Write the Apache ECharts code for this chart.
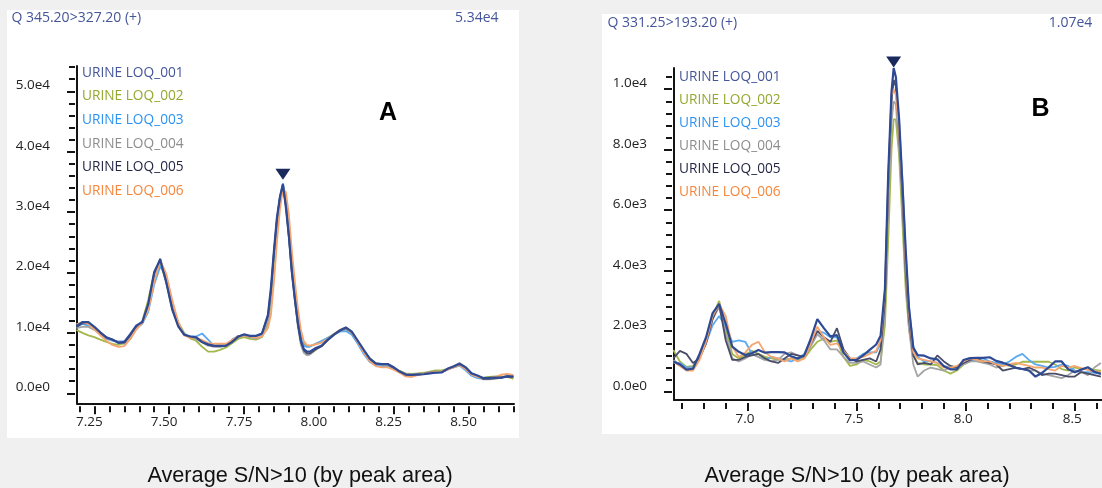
<!DOCTYPE html>
<html>
<head>
<meta charset="utf-8">
<script src="https://cdn.jsdelivr.net/npm/echarts@6/dist/echarts.min.js"></script>
<style>
  html, body { margin: 0; padding: 0; background: #f0f0f0; }
  #chart { width: 1102px; height: 488px; }
</style>
</head>
<body>
<div id="chart"></div>
<script>
// sample names, shared by both panels
const NAMES = ['URINE LOQ_001', 'URINE LOQ_002', 'URINE LOQ_003', 'URINE LOQ_004', 'URINE LOQ_005', 'URINE LOQ_006'];
const LINE_COLORS = ['#2f4a94', '#a3b84a', '#5aaaf2', '#a5a5a5', '#4a4d68', '#f7a56e'];
const TEXT_COLORS = ['#44559a', '#93a82e', '#2c93f2', '#8d8d8d', '#252845', '#f5863c'];

// panel A : Q 345.20>327.20 (+)
const L_RT = [7.19, 7.21, 7.23, 7.25, 7.27, 7.29, 7.31, 7.33, 7.35, 7.37, 7.39, 7.41, 7.43, 7.45, 7.47, 7.49, 7.51,
  7.53, 7.55, 7.57, 7.59, 7.61, 7.63, 7.65, 7.67, 7.69, 7.71, 7.73, 7.75, 7.77, 7.79, 7.81, 7.83,
  7.84, 7.85, 7.86, 7.87, 7.88, 7.89, 7.90, 7.91, 7.92, 7.93, 7.94, 7.95, 7.96, 7.97,
  7.99, 8.01, 8.03, 8.05, 8.07, 8.09, 8.11, 8.13, 8.15, 8.17, 8.19, 8.21, 8.23, 8.25, 8.27, 8.29, 8.31,
  8.33, 8.35, 8.37, 8.39, 8.41, 8.43, 8.45, 8.47, 8.49, 8.51, 8.53, 8.55, 8.57, 8.59, 8.61, 8.63, 8.65];
const L_001 = [11100, 11800, 11800, 11000, 10100, 9250, 8900, 8360, 8500, 9800, 11200, 11800, 14750, 20100, 22100, 18400, 13900,
  11100, 9700, 9400, 9250, 8500, 8100, 7870, 7870, 7900, 8500, 9350, 9750, 9515, 9515, 9900, 13000,
  17500, 23600, 29100, 32500, 34600, 30800, 26000, 20000, 15500, 11600, 8700, 7300, 6900, 6900,
  7500, 7900, 8900, 9700, 10400, 10900, 10200, 8700, 7200, 5750, 4950, 4850, 4850, 4300, 3600, 3100, 3050,
  3100, 3150, 3300, 3400, 3450, 4050, 4450, 4900, 4300, 3300, 2950, 2500, 2550, 2600, 2600, 2800, 2750];
const L_002 = [10500, 10000, 9600, 9300, 8900, 8500, 8200, 8000, 8300, 9500, 10800, 11900, 15500, 20000, 21500, 18500, 14500,
  11800, 10000, 9100, 8700, 7700, 6900, 6900, 7200, 7600, 8300, 9000, 9300, 9000, 8900, 9300, 11500,
  15000, 21500, 27500, 31500, 34000, 32000, 27000, 21500, 17000, 13000, 9800, 8200, 7800, 7800,
  8200, 8600, 9200, 9800, 10300, 10600, 10000, 8600, 7000, 5800, 5000, 4700, 4600, 4200, 3700, 3300, 3200,
  3300, 3400, 3600, 3800, 3800, 4000, 4300, 4600, 4100, 3200, 2700, 2600, 2700, 2800, 2800, 2700, 2400];
const L_003 = [11000, 11500, 11200, 10600, 9800, 9000, 8700, 8600, 8600, 9400, 10800, 11500, 13500, 18000, 21000, 19500, 15000,
  11500, 9800, 9400, 9400, 9900, 8900, 7800, 7700, 7900, 8600, 9400, 9700, 9300, 9200, 9700, 12000,
  16500, 23000, 28500, 32500, 34800, 32000, 26500, 20500, 16000, 12000, 9200, 7900, 7700, 7700,
  8200, 8700, 9200, 9700, 10200, 10300, 9700, 8200, 6500, 5200, 4600, 4500, 4500, 4000, 3500, 3100, 3000,
  3100, 3200, 3300, 3400, 3500, 3900, 4300, 4600, 3800, 2900, 2500, 2400, 2400, 2500, 2600, 2900, 2900];
const L_004 = [10800, 11000, 11000, 10500, 9800, 9200, 8800, 8500, 8200, 9000, 10600, 11600, 14000, 19000, 22000, 19000, 14500,
  11300, 9700, 9300, 9000, 8400, 7900, 7700, 7700, 8000, 8900, 9500, 9500, 9400, 9000, 9400, 12000,
  16500, 23000, 28500, 32500, 34300, 31500, 26000, 20000, 15500, 11000, 8000, 6700, 6300, 6400,
  7200, 7900, 8800, 9600, 10400, 10700, 10000, 8600, 7000, 5600, 4900, 4800, 4700, 4300, 3700, 3200, 3100,
  3200, 3300, 3500, 3600, 3600, 4100, 4500, 5000, 4400, 3300, 2800, 2300, 2300, 2400, 2600, 2900, 2900];
const L_005 = [11000, 11600, 11600, 10900, 10000, 9300, 8900, 8400, 8400, 9600, 11000, 11700, 14500, 19800, 22300, 18600, 14000,
  11200, 9700, 9350, 9200, 8500, 8000, 7800, 7800, 7900, 8600, 9400, 9700, 9400, 9400, 9900, 12800,
  17000, 23300, 28800, 32300, 34400, 31000, 25800, 20000, 15600, 11500, 8600, 7100, 6600, 6600,
  7300, 7800, 8800, 9700, 10400, 10800, 10100, 8600, 7100, 5700, 4900, 4800, 4800, 4200, 3500, 3100, 3000,
  3100, 3200, 3400, 3500, 3500, 4000, 4400, 4800, 4200, 3200, 2800, 2400, 2400, 2500, 2600, 2800, 2700];
const L_006 = [11400, 11800, 11500, 10600, 9600, 8700, 8000, 7700, 7800, 9000, 10600, 11700, 13800, 18500, 22000, 19800, 15500,
  11800, 9600, 9200, 9200, 8800, 8300, 8200, 8200, 8200, 8800, 9300, 9600, 9400, 9200, 9400, 10800,
  13000, 18500, 25000, 30500, 33800, 33300, 29500, 23500, 18500, 14000, 10500, 8600, 8000, 7900,
  8100, 8400, 9000, 9800, 10500, 10900, 10100, 8500, 6800, 5300, 4500, 4300, 4300, 3900, 3400, 2800, 2700,
  3000, 3200, 3400, 3500, 3600, 3900, 4300, 4700, 4000, 3100, 2700, 2500, 2500, 2700, 3100, 3200, 3000];
const L_PEAK = [7.88, 34600];
const L_X_TICKS = [7.20, 7.25, 7.30, 7.35, 7.40, 7.45, 7.50, 7.55, 7.60, 7.65, 7.70, 7.75, 7.80, 7.85, 7.90, 7.95,
  8.00, 8.05, 8.10, 8.15, 8.20, 8.25, 8.30, 8.35, 8.40, 8.45, 8.50, 8.55, 8.60, 8.65];
const L_X_LABELS = [7.25, 7.50, 7.75, 8.00, 8.25, 8.50];
const L_Y_LABELS = [0, 10000, 20000, 30000, 40000, 50000];

// panel B : Q 331.25>193.20 (+)
const R_RT = [6.66, 6.69, 6.72, 6.75, 6.78, 6.81, 6.84, 6.87, 6.90, 6.93,
  6.96, 6.99, 7.02, 7.05, 7.08, 7.11, 7.14, 7.17, 7.20, 7.23,
  7.26, 7.29, 7.32, 7.35, 7.38, 7.41, 7.44, 7.47, 7.50, 7.53,
  7.56, 7.59, 7.61, 7.63, 7.645, 7.66, 7.67, 7.68, 7.695, 7.71,
  7.725, 7.74, 7.76, 7.78, 7.81, 7.84, 7.87, 7.90, 7.93, 7.96,
  7.99, 8.02, 8.05, 8.08, 8.11, 8.14, 8.17, 8.20, 8.23, 8.26,
  8.29, 8.32, 8.35, 8.38, 8.41, 8.44, 8.47, 8.50, 8.53, 8.56,
  8.59, 8.62];
const R_001 = [1000, 900, 730, 760, 1250, 1800, 2600, 2900, 2250, 1490,
  1320, 1210, 1270, 1380, 1290, 1310, 1310, 1300, 1170, 1100,
  1200, 1750, 2400, 2100, 1830, 1870, 1300, 1040, 1050, 1200,
  1380, 1560, 1850, 3400, 7200, 9900, 10700, 10400, 9000, 6900,
  4700, 2800, 1450, 1210, 1190, 1100, 1070, 840, 740, 740,
  1050, 1110, 1120, 1120, 1140, 1020, 960, 880, 790, 750,
  700, 500, 620, 800, 1000, 1000, 740, 640, 730, 810,
  660, 590];
const R_002 = [1380, 1000, 820, 850, 1200, 1700, 2500, 3000, 2100, 1250,
  1100, 1230, 1350, 1250, 1150, 1100, 1050, 1050, 1100, 1050,
  1100, 1400, 1650, 1750, 1650, 1700, 1150, 850, 900, 1050,
  1000, 900, 1000, 2200, 5000, 8000, 9000, 9000, 7800, 5600,
  3400, 2100, 1200, 950, 900, 900, 880, 700, 600, 700,
  900, 1000, 1050, 1000, 950, 950, 900, 850, 900, 990,
  990, 990, 990, 990, 900, 750, 700, 800, 760, 740,
  720, 700];
const R_003 = [950, 950, 800, 800, 1150, 1600, 2200, 2500, 2150, 1650,
  1700, 1650, 1250, 1150, 1050, 1150, 1100, 1050, 1000, 1100,
  1250, 1650, 2000, 1950, 1800, 1800, 1300, 1050, 1100, 1250,
  1300, 1300, 1600, 3300, 7000, 9800, 10300, 10100, 8900, 7000,
  4600, 2800, 1500, 1150, 1000, 1000, 950, 850, 800, 820,
  950, 1000, 1050, 1100, 1000, 950, 900, 1000, 1150, 1250,
  1050, 900, 850, 800, 820, 900, 850, 700, 650, 650,
  620, 600];
const R_004 = [1050, 900, 760, 780, 1150, 1700, 2400, 2800, 1900, 1100,
  1000, 1100, 1250, 1150, 1050, 1000, 1050, 1250, 1300, 1200,
  1150, 1500, 1900, 1700, 1400, 1400, 1150, 950, 950, 1000,
  900, 800, 900, 2800, 6200, 8900, 9600, 9500, 8000, 6200,
  3800, 2100, 900, 500, 700, 800, 750, 700, 800, 800,
  900, 1000, 1000, 950, 900, 800, 850, 900, 800, 750,
  700, 700, 600, 550, 500, 450, 550, 700, 650, 550,
  800, 950];
const R_005 = [1100, 1350, 1250, 950, 1100, 1600, 2400, 2900, 1700, 1050,
  1050, 1150, 1200, 1250, 1100, 1000, 950, 1100, 1250, 1200,
  1150, 1600, 2000, 1800, 1650, 2100, 1400, 1100, 1000, 1050,
  1100, 1000, 1400, 3000, 6800, 9600, 10300, 10100, 8500, 6500,
  4000, 2400, 1200, 900, 950, 900, 1200, 1000, 850, 800,
  950, 1050, 1100, 1000, 950, 900, 700, 750, 800, 750,
  800, 700, 550, 600, 600, 550, 500, 500, 650, 600,
  550, 500];
const R_006 = [1000, 850, 700, 700, 1050, 1650, 2500, 2900, 2500, 1500,
  1150, 1300, 1550, 1650, 1300, 1150, 1100, 1000, 1100, 1000,
  1100, 1600, 2150, 1800, 1550, 1600, 1350, 1100, 1100, 1150,
  1250, 1350, 1700, 3300, 6900, 9800, 10000, 9800, 8600, 6800,
  4300, 2600, 1300, 1100, 1050, 1000, 950, 800, 800, 850,
  1000, 1100, 1050, 1000, 1000, 900, 850, 900, 950, 900,
  850, 800, 800, 750, 700, 850, 800, 850, 780, 720,
  680, 650];
const R_PEAK = [7.67, 10700];
const R_X_TICKS = [6.7, 6.8, 6.9, 7.0, 7.1, 7.2, 7.3, 7.4, 7.5, 7.6, 7.7, 7.8, 7.9, 8.0, 8.1, 8.2, 8.3, 8.4, 8.5, 8.6];
const R_X_LABELS = [7.0, 7.5, 8.0, 8.5];
const R_Y_LABELS = [0, 2000, 4000, 6000, 8000, 10000];

// minor y ticks, evenly spaced between the labelled ones
function steps(from, to, step) {
  const out = [];
  for (let v = from; v <= to + 1e-9; v += step) out.push(Math.round(v));
  return out;
}
const L_Y_TICKS = steps(0, 54000, 2000);
const R_Y_TICKS = steps(0, 10400, 400);

const FONT = '"Open Sans", "Noto Sans", sans-serif';
const CAPTION_FONT = '"Liberation Sans", Arial, sans-serif';
const AXIS_COLOR = '#141414';

const chart = echarts.init(document.getElementById('chart'), null, { renderer: 'canvas' });

// 5.0e4 style; the blank second line lifts the label a little above its tick
function fmtExp(v) {
  return Number(v).toExponential(1).replace('e+', 'e') + '\n\u00a0';
}

// three axes per direction: line+labels, minor ticks, major ticks (ticks sit a bit off the line)
function xAxes(grid, min, max, ticks, labels, digits, labelPad) {
  const base = { gridIndex: grid, type: 'value', position: 'bottom', min: min, max: max, splitLine: { show: false } };
  const noLine = { show: false, onZero: false };
  return [
    Object.assign({}, base, {
      axisLine: { show: true, onZero: false, lineStyle: { color: AXIS_COLOR, width: 2 } },
      axisTick: { show: false },
      axisLabel: {
        customValues: labels, margin: 12, color: '#222', fontFamily: FONT, fontSize: 13.5,
        padding: [0, labelPad, 0, 0], formatter: v => Number(v).toFixed(digits)
      }
    }),
    Object.assign({}, base, {
      offset: 3, axisLine: noLine, axisLabel: { show: false },
      axisTick: { show: true, customValues: ticks, length: 6, lineStyle: { color: AXIS_COLOR, width: 2 } }
    }),
    Object.assign({}, base, {
      offset: 3, axisLine: noLine, axisLabel: { show: false },
      axisTick: { show: true, customValues: labels, length: 8, lineStyle: { color: AXIS_COLOR, width: 2 } }
    })
  ];
}

function yAxes(grid, min, max, ticks, labels) {
  const base = { gridIndex: grid, type: 'value', position: 'left', min: min, max: max, splitLine: { show: false } };
  const noLine = { show: false, onZero: false };
  return [
    Object.assign({}, base, {
      axisLine: { show: true, onZero: false, lineStyle: { color: AXIS_COLOR, width: 2 } },
      axisTick: { show: false },
      axisLabel: {
        customValues: labels, margin: 27, color: '#222', fontFamily: FONT, fontSize: 13.5,
        lineHeight: 12, formatter: fmtExp
      }
    }),
    Object.assign({}, base, {
      offset: 2, axisLine: noLine, axisLabel: { show: false },
      axisTick: { show: true, customValues: ticks, length: 6, lineStyle: { color: AXIS_COLOR, width: 2 } }
    }),
    Object.assign({}, base, {
      offset: 2, axisLine: noLine, axisLabel: { show: false },
      axisTick: { show: true, customValues: labels, length: 8, lineStyle: { color: AXIS_COLOR, width: 2 } }
    })
  ];
}

function panelSeries(rt, lists, axisIdx, peak, markLift) {
  const order = [1, 2, 3, 4, 5, 0]; // 001 drawn on top
  return order.map(i => {
    const s = {
      name: NAMES[i],
      type: 'line',
      xAxisIndex: axisIdx,
      yAxisIndex: axisIdx,
      showSymbol: false,
      silent: true,
      color: LINE_COLORS[i],
      lineStyle: { width: i === 0 ? 2.2 : 1.8, color: LINE_COLORS[i] },
      data: rt.map((t, k) => [t, lists[i][k]]),
      z: i === 0 ? 5 : 3
    };
    if (i === 0) {
      s.markPoint = {
        symbol: 'triangle', symbolRotate: 180, symbolSize: [15, 11], symbolOffset: [0, -markLift],
        itemStyle: { color: '#1b2a5c' }, label: { show: false },
        data: [{ coord: peak }]
      };
    }
    return s;
  });
}

function legendAt(left, top, gap) {
  return {
    orient: 'vertical', left: left, top: top, padding: 0,
    icon: 'none', itemWidth: 0, itemHeight: 14, itemGap: gap,
    textStyle: { fontFamily: FONT, fontSize: 13.7, lineHeight: 14 },
    data: NAMES.map((n, i) => ({ name: n, textStyle: { color: TEXT_COLORS[i] } }))
  };
}

// panel header texts (trace name on the left, max intensity on the right)
function header(text, pos, top) {
  return Object.assign({
    text: text, top: top, padding: 0,
    textStyle: { fontFamily: FONT, fontSize: 14, fontWeight: 'normal', color: '#44559a', lineHeight: 16 }
  }, pos);
}

function label(x, y, text, size, family, weight, color, align) {
  return {
    type: 'text', x: x, y: y, z: 10,
    style: {
      text: text, fontSize: size, fontFamily: family, fontWeight: weight, fill: color,
      align: align, verticalAlign: 'middle'
    }
  };
}

const option = {
  animation: false,
  backgroundColor: '#f0f0f0',
  title: [
    header('Q 345.20>327.20 (+)', { left: 11.4 }, 10),
    header('5.34e4', { right: 603.4 }, 10),
    header('Q 331.25>193.20 (+)', { left: 607.4 }, 15),
    header('1.07e4', { right: 9.7 }, 15)
  ],
  grid: [
    { left: 77, top: 66, width: 437, height: 337.3, outerBoundsMode: 'none' },
    { left: 674, top: 68, width: 440, height: 332, outerBoundsMode: 'none' }
  ],
  xAxis: xAxes(0, 7.192, 8.652, L_X_TICKS, L_X_LABELS, 2, 10)
    .concat(xAxes(1, 6.663, 8.680, R_X_TICKS, R_X_LABELS, 1, 5)),
  yAxis: yAxes(0, -1656, 54190, L_Y_TICKS, L_Y_LABELS)
    .concat(yAxes(1, -274, 10700, R_Y_TICKS, R_Y_LABELS)),
  legend: [legendAt(77, 65.7, 9.7), legendAt(674, 69.7, 9.1)],
  series: panelSeries(L_RT, [L_001, L_002, L_003, L_004, L_005, L_006], 0, L_PEAK, 10)
    .concat(panelSeries(R_RT, [R_001, R_002, R_003, R_004, R_005, R_006], 3, R_PEAK, 6)),
  graphic: [
    { type: 'rect', z: -10, silent: true, shape: { x: 7, y: 10, width: 512, height: 428 }, style: { fill: '#ffffff' } },
    { type: 'rect', z: -10, silent: true, shape: { x: 602, y: 14, width: 500, height: 420 }, style: { fill: '#ffffff' } },
    label(388, 113, 'A', 25, CAPTION_FONT, 'bold', '#000', 'center'),
    label(1040.5, 109, 'B', 25, CAPTION_FONT, 'bold', '#000', 'center'),
    label(300, 476, 'Average S/N>10 (by peak area)', 21.7, CAPTION_FONT, 'normal', '#111', 'center'),
    label(857, 476, 'Average S/N>10 (by peak area)', 21.7, CAPTION_FONT, 'normal', '#111', 'center')
  ]
};

chart.setOption(option);
</script>
</body>
</html>
